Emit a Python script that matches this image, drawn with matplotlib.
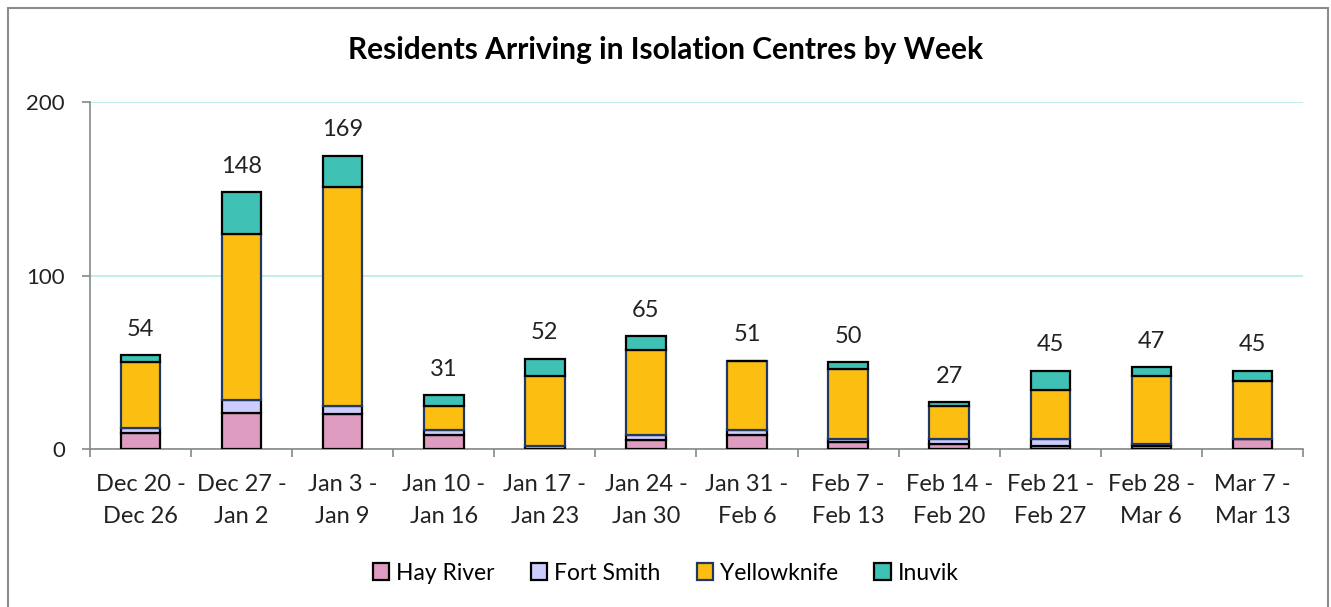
import matplotlib
matplotlib.use("Agg")
import matplotlib.pyplot as plt
from matplotlib.patches import Rectangle
import numpy as np

weeks = ["Dec 20 -\nDec 26", "Dec 27 -\nJan 2", "Jan 3 -\nJan 9", "Jan 10 -\nJan 16",
         "Jan 17 -\nJan 23", "Jan 24 -\nJan 30", "Jan 31 -\nFeb 6", "Feb 7 -\nFeb 13",
         "Feb 14 -\nFeb 20", "Feb 21 -\nFeb 27", "Feb 28 -\nMar 6", "Mar 7 -\nMar 13"]
hay_river = [9, 21, 20, 8, 0, 5, 8, 4, 3, 2, 2, 6]
fort_smith = [3, 7, 5, 3, 2, 3, 3, 2, 3, 4, 1, 0]
yellowknife = [38, 96, 126, 14, 40, 49, 40, 40, 19, 28, 39, 33]
inuvik = [4, 24, 18, 6, 10, 8, 0, 4, 2, 11, 5, 6]

series = [("Hay River", hay_river, "#dd9cc0", "black"),
          ("Fort Smith", fort_smith, "#cccdfd", "black"),
          ("Yellowknife", yellowknife, "#fdbe12", "#1f3864"),
          ("Inuvik", inuvik, "#40c1b5", "black")]

plt.rcParams['font.family'] = ['Lato', 'DejaVu Sans']

W, H = 1331, 607
fig = plt.figure(figsize=(W / 100, H / 100), dpi=100)
ax = fig.add_axes([90 / W, 1 - 449 / H, (1303 - 90) / W, (449 - 102) / H])

x = np.arange(len(weeks))
bottom = np.zeros(len(weeks))
for name, vals, fc, ec in series:
    v = np.array(vals, dtype=float)
    ax.bar(x, v, bottom=bottom, width=0.39, color=fc, edgecolor=ec, linewidth=1.6,
           label=name, zorder=3)
    bottom += v

for xi, tot in zip(x, bottom):
    ax.text(xi, tot + 9, f"{int(tot)}", ha="center", va="bottom", fontsize=17, color="#222222")

ax.set_xlim(-0.5, len(weeks) - 0.5)
ax.set_ylim(0, 200)
ax.set_yticks([0, 100, 200])
ax.yaxis.grid(True, color="#b5ebe5", linewidth=1.2, zorder=0)
ax.set_axisbelow(True)
ax.set_xticks(x)
ax.set_xticklabels(weeks, fontsize=17, color="#222222", linespacing=1.65)
ax.set_xticks(np.arange(-0.5, len(weeks)), minor=True)
ax.tick_params(axis="x", which="major", length=0, pad=18)
ax.tick_params(axis="x", which="minor", length=6, color="#888888", width=1.2)
ax.tick_params(axis="y", length=6, color="#888888", width=1.2, labelsize=16,
               labelcolor="#222222", pad=12)
for s in ["top", "right"]:
    ax.spines[s].set_visible(False)
ax.spines["left"].set_color("#888888")
ax.spines["bottom"].set_color("#888888")
ax.spines["left"].set_linewidth(1.2)
ax.spines["bottom"].set_linewidth(1.2)

fig.text(0.5, 1 - 50 / H, "Residents Arriving in Isolation Centres by Week", ha="center",
         va="center", fontsize=21.5, fontweight="bold", color="black")

handles, labels = ax.get_legend_handles_labels()
fig.legend(handles, labels, loc="center", bbox_to_anchor=(0.5, 1 - 573 / H), ncol=4,
           frameon=False, fontsize=16.5, handlelength=0.7, handleheight=0.7,
           handletextpad=0.3, columnspacing=1.6)

fig.patches.append(Rectangle((8 / W, -0.01), (1328 - 8) / W, 1 - 8 / H + 0.01,
                             transform=fig.transFigure, fill=False, edgecolor="#8c8c8c",
                             linewidth=1.5))

fig.savefig("out.png", dpi=100)
